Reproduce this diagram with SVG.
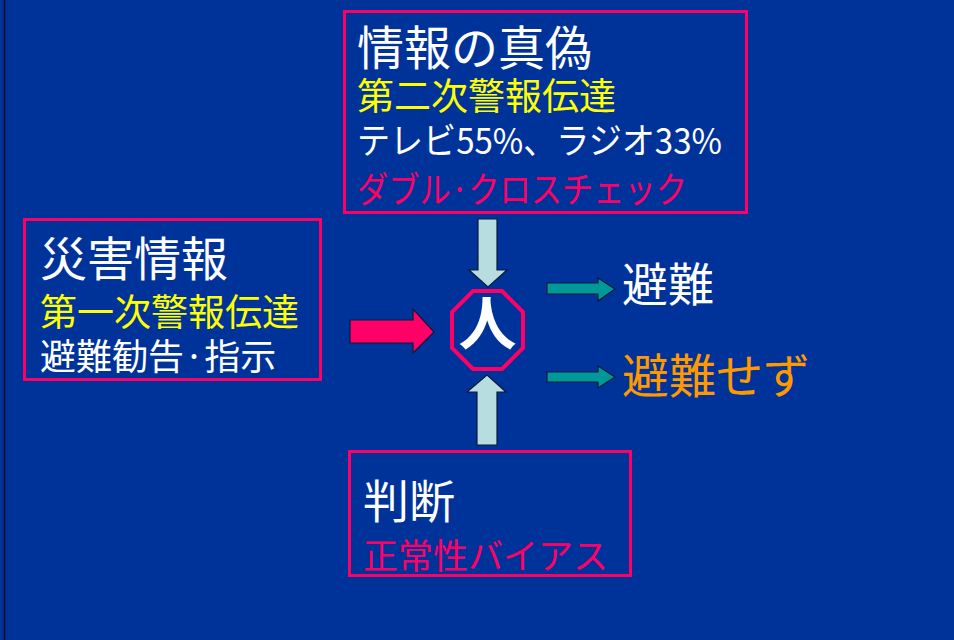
<svg xmlns="http://www.w3.org/2000/svg" width="954" height="640" viewBox="0 0 954 640">
<style>
.t{font-family:"Noto Sans CJK JP","Noto Sans CJK SC",sans-serif;}
.w{fill:#ffffff}
.y{fill:#ffff00}
.m{fill:#ff0066}
.o{fill:#ff9900}
.box{fill:none;stroke:#ff0066;stroke-width:3}
.arr{stroke:#0a1a3a;stroke-width:1.2;stroke-linejoin:miter}
</style>
<rect x="0" y="0" width="954" height="640" fill="#003399"/>
<line x1="4.5" y1="0" x2="4.5" y2="640" stroke="#0a0f2a" stroke-width="1.6"/>

<g id="node-top">
<rect class="box" x="344.5" y="11.5" width="402" height="201"/>
<text class="t w" x="357" y="65" font-size="47">情報の真偽</text>
<text class="t y" x="357" y="110" font-size="37">第二次警報伝達</text>
<text class="t w" x="357" y="154" font-size="36" textLength="365" lengthAdjust="spacingAndGlyphs">テレビ55%、ラジオ33%</text>
<text class="t m" x="357" y="203" font-size="36" textLength="330" lengthAdjust="spacingAndGlyphs">ダブル·クロスチェック</text>
</g>

<g id="node-left">
<rect class="box" x="24.5" y="219.5" width="296" height="160"/>
<text class="t w" x="40" y="276" font-size="47">災害情報</text>
<text class="t y" x="40" y="326" font-size="37">第一次警報伝達</text>
<text class="t w" x="40" y="370" font-size="36">避難勧告·指示</text>
</g>

<g id="node-person">
<polygon points="473,291 502,291 523,312 523,348 502,369 473,369 452,348 452,312" fill="none" stroke="#ff0066" stroke-width="4"/>
<text class="t w" x="487.5" y="345" font-size="58" font-weight="bold" text-anchor="middle">人</text>
</g>

<g id="node-bottom">
<rect class="box" x="349.5" y="451.5" width="281" height="124"/>
<text class="t w" x="363" y="518" font-size="46">判断</text>
<text class="t m" x="363" y="569" font-size="35">正常性バイアス</text>
</g>

<g id="node-evac">
<text class="t w" x="622" y="301" font-size="46">避難</text>
</g>
<g id="node-noevac">
<text class="t o" x="622" y="393" font-size="47">避難せず</text>
</g>

<g id="connectors">
<polygon class="arr" fill="#ff0066" points="350,320 413,320 413,309 434,332 413,353 413,343 350,343"/>
<polygon class="arr" fill="#b8dde0" points="478,219 497,219 497,270 507,270 488,287 469,270 478,270"/>
<polygon class="arr" fill="#b8dde0" points="477,445 497,445 497,392 506,392 487,375 467,392 477,392"/>
<polygon class="arr" fill="#009999" points="547,283 598,283 598,278 615,289 598,301 598,294 547,294"/>
<polygon class="arr" fill="#009999" points="547,372 598,372 598,366 615,377 598,388 598,382 547,382"/>
</g>
</svg>
